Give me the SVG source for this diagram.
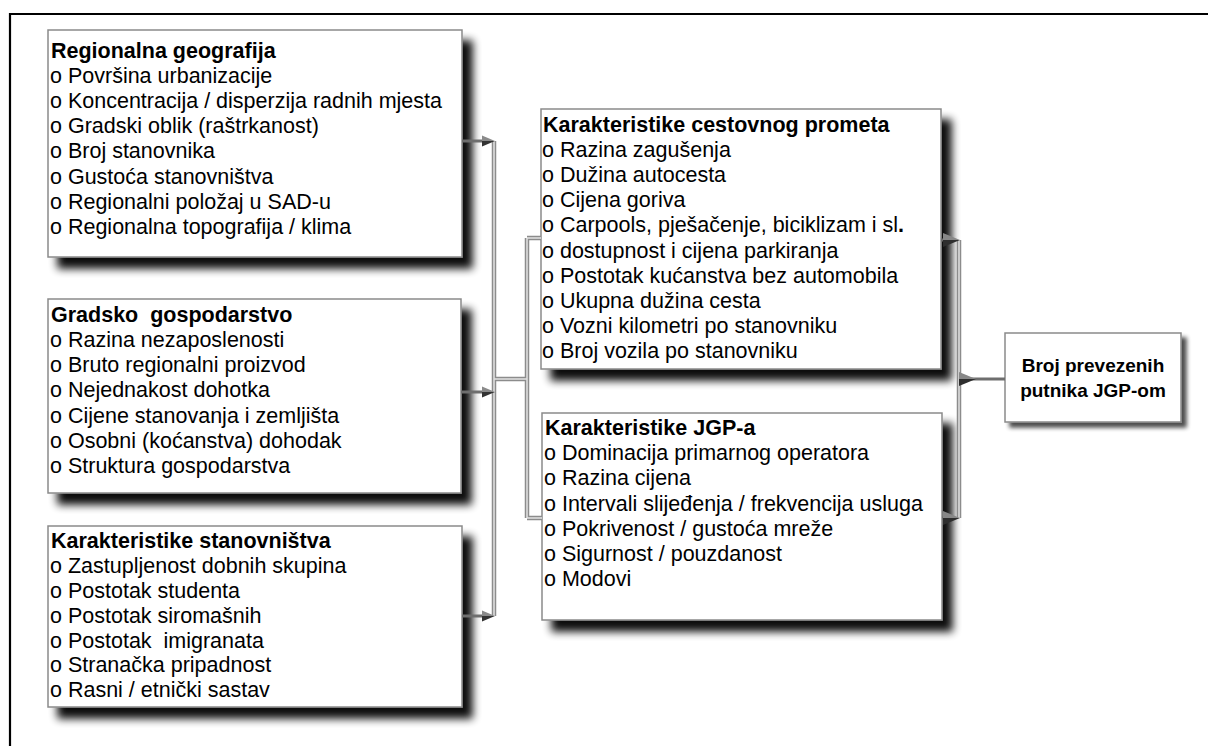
<svg xmlns="http://www.w3.org/2000/svg" width="1208" height="746" viewBox="0 0 1208 746">
<style>
.box{fill:#ffffff;stroke:#8a8a8a;stroke-width:1.5}
.t{font-family:"Liberation Sans",Arial,sans-serif;font-size:21.5px;fill:#000;white-space:pre}
.b{font-weight:bold}
.c{font-family:"Liberation Sans",Arial,sans-serif;font-size:19px;font-weight:bold;fill:#000;text-anchor:middle}
.bus{fill:none;stroke:#8c8c8c;stroke-width:4.5}
.busin{fill:none;stroke:#e2e2e2;stroke-width:1.5}
.ln{fill:none;stroke:#6e6e6e;stroke-width:3}
</style>
<defs>
<filter id="sh" x="-10%" y="-10%" width="130%" height="140%">
<feGaussianBlur in="SourceAlpha" stdDeviation="4.5"/>
<feOffset dx="10" dy="11" result="o"/>
<feComponentTransfer><feFuncA type="linear" slope="0.95"/></feComponentTransfer>
<feMerge><feMergeNode/><feMergeNode in="SourceGraphic"/></feMerge>
</filter>
<filter id="sh2" x="-10%" y="-10%" width="130%" height="140%">
<feGaussianBlur in="SourceAlpha" stdDeviation="2"/>
<feOffset dx="5" dy="5" result="o"/>
<feComponentTransfer><feFuncA type="linear" slope="0.7"/></feComponentTransfer>
<feMerge><feMergeNode/><feMergeNode in="SourceGraphic"/></feMerge>
</filter>
<g id="ah">
<polygon points="-13,-5.5 0,0 -13,0" fill="#8a8a8a"/>
<polygon points="-13,0 0,0 -13,5.5" fill="#333"/>
</g>
<g id="ahb">
<polygon points="-17,-7 0,0 -17,0" fill="#888"/>
<polygon points="-17,0 0,0 -17,7" fill="#2e2e2e"/>
</g>
</defs>
<rect width="1208" height="746" fill="#fff"/>
<path d="M10,746 V14 H1208" fill="none" stroke="#000" stroke-width="2.2"/>

<g id="n-regionalna-geografija">
<rect class="box" x="48" y="30" width="414" height="227" filter="url(#sh)"/>
<text class="t b" x="51" y="58">Regionalna geografija</text>
<text class="t" x="50" y="83">o Površina urbanizacije</text>
<text class="t" x="50" y="108">o Koncentracija / disperzija radnih mjesta</text>
<text class="t" x="50" y="133">o Gradski oblik (raštrkanost)</text>
<text class="t" x="50" y="158">o Broj stanovnika</text>
<text class="t" x="50" y="184">o Gustoća stanovništva</text>
<text class="t" x="50" y="209">o Regionalni položaj u SAD-u</text>
<text class="t" x="50" y="234">o Regionalna topografija / klima</text>
</g>

<g id="n-gradsko-gospodarstvo">
<rect class="box" x="48" y="299" width="413" height="194" filter="url(#sh)"/>
<text class="t b" x="51" y="322">Gradsko  gospodarstvo</text>
<text class="t" x="50" y="347">o Razina nezaposlenosti</text>
<text class="t" x="50" y="372">o Bruto regionalni proizvod</text>
<text class="t" x="50" y="397">o Nejednakost dohotka</text>
<text class="t" x="50" y="423">o Cijene stanovanja i zemljišta</text>
<text class="t" x="50" y="448">o Osobni (koćanstva) dohodak</text>
<text class="t" x="50" y="473">o Struktura gospodarstva</text>
</g>

<g id="n-karakteristike-stanovnistva">
<rect class="box" x="48" y="526" width="414" height="181" filter="url(#sh)"/>
<text class="t b" x="51" y="548">Karakteristike stanovništva</text>
<text class="t" x="50" y="573">o Zastupljenost dobnih skupina</text>
<text class="t" x="50" y="598">o Postotak studenta</text>
<text class="t" x="50" y="623">o Postotak siromašnih</text>
<text class="t" x="50" y="648">o Postotak  imigranata</text>
<text class="t" x="50" y="672">o Stranačka pripadnost</text>
<text class="t" x="50" y="697">o Rasni / etnički sastav</text>
</g>

<g id="n-cestovni-promet">
<rect class="box" x="541" y="109" width="400" height="260" filter="url(#sh)"/>
<text class="t b" x="543" y="132">Karakteristike cestovnog prometa</text>
<text class="t" x="542" y="157">o Razina zagušenja</text>
<text class="t" x="542" y="182">o Dužina autocesta</text>
<text class="t" x="542" y="207">o Cijena goriva</text>
<text class="t" x="542" y="232">o Carpools, pješačenje, biciklizam i sl<tspan class="b">.</tspan></text>
<text class="t" x="542" y="258">o dostupnost i cijena parkiranja</text>
<text class="t" x="542" y="283">o Postotak kućanstva bez automobila</text>
<text class="t" x="542" y="308">o Ukupna dužina cesta</text>
<text class="t" x="542" y="333">o Vozni kilometri po stanovniku</text>
<text class="t" x="542" y="358">o Broj vozila po stanovniku</text>
</g>

<g id="n-jgp">
<rect class="box" x="542" y="413" width="400" height="207" filter="url(#sh)"/>
<text class="t b" x="545" y="435">Karakteristike JGP-a</text>
<text class="t" x="544" y="460">o Dominacija primarnog operatora</text>
<text class="t" x="544" y="485">o Razina cijena</text>
<text class="t" x="544" y="511">o Intervali slijeđenja / frekvencija usluga</text>
<text class="t" x="544" y="536">o Pokrivenost / gustoća mreže</text>
<text class="t" x="544" y="561">o Sigurnost / pouzdanost</text>
<text class="t" x="544" y="586">o Modovi</text>
</g>

<g id="n-broj-putnika">
<rect class="box" x="1005" y="333" width="176" height="89" filter="url(#sh2)"/>
<text class="c" x="1093" y="372">Broj prevezenih</text>
<text class="c" x="1093" y="397">putnika JGP-om</text>
</g>

<g id="connectors">
<path class="bus" d="M494,141 V616 M494,379 H527 M527,238 V518 M527,238 H541 M527,518 H542"/>
<path class="busin" d="M494,141 V616 M494,379 H527 M527,238 V518 M527,238 H541 M527,518 H542"/>
<path class="ln" d="M462,141 H484 M461,392 H484 M462,616 H484"/>
<use href="#ah" x="495" y="141"/>
<use href="#ah" x="495" y="392"/>
<use href="#ah" x="495" y="616"/>
<path class="bus" d="M959,240 V518"/>
<path class="busin" d="M959,240 V518"/>
<path class="ln" d="M941,240 H945 M942,518 H945 M960,379 H1005"/>
<use href="#ahb" x="960" y="240"/>
<use href="#ahb" x="960" y="518"/>
<use href="#ahb" x="976" y="379"/>
</g>
</svg>
